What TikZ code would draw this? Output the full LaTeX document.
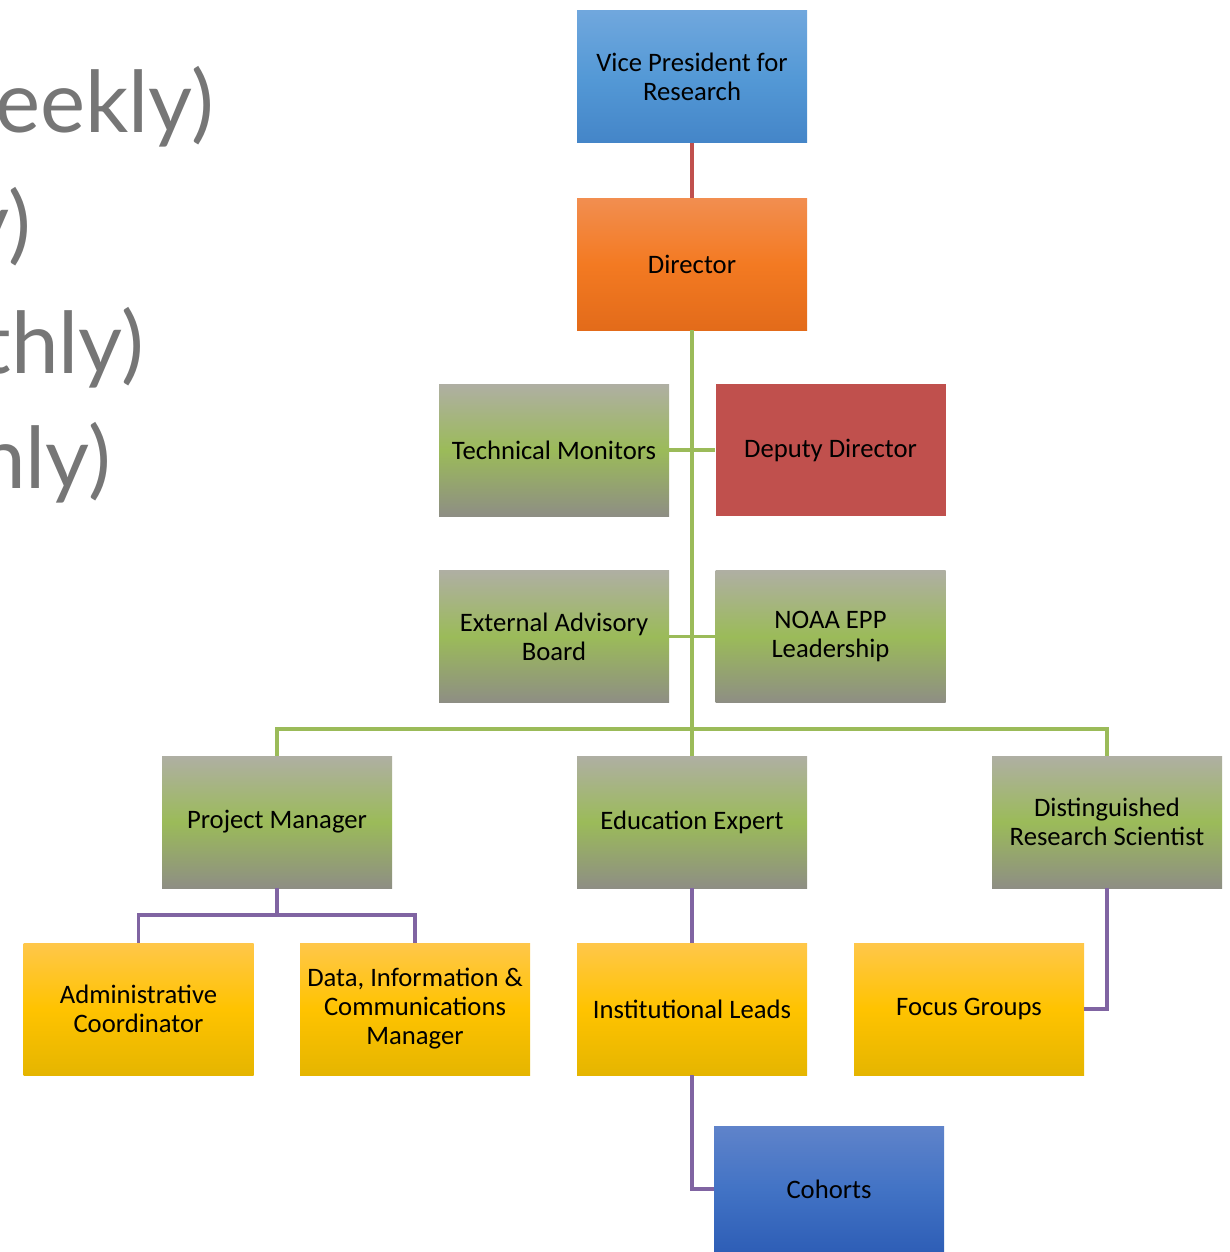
\documentclass[tikz,border=0pt]{standalone}
\usepackage{fontspec}
\setmainfont{Carlito}
\newfontfamily\leftfont{Lato}
\definecolor{lineRed}{HTML}{C0504D}
\definecolor{lineGreen}{HTML}{9BBB59}
\definecolor{linePurple}{HTML}{8064A2}
\definecolor{leftGray}{HTML}{767676}
\definecolor{ddRed}{HTML}{C0504D}
\pgfdeclareverticalshading{greenshade}{100bp}{
  rgb(0bp)=(0.557,0.557,0.518); rgb(25bp)=(0.557,0.557,0.518); rgb(50bp)=(0.608,0.733,0.349);
  rgb(75bp)=(0.686,0.686,0.639); rgb(100bp)=(0.686,0.686,0.639)}
\pgfdeclareverticalshading{blueshade}{100bp}{
  rgb(0bp)=(0.267,0.522,0.784); rgb(25bp)=(0.267,0.522,0.784); rgb(50bp)=(0.329,0.600,0.839);
  rgb(75bp)=(0.439,0.655,0.867); rgb(100bp)=(0.439,0.655,0.867)}
\pgfdeclareverticalshading{orangeshade}{100bp}{
  rgb(0bp)=(0.890,0.420,0.102); rgb(25bp)=(0.890,0.420,0.102); rgb(50bp)=(0.953,0.478,0.133);
  rgb(75bp)=(0.949,0.557,0.314); rgb(100bp)=(0.949,0.557,0.314)}
\pgfdeclareverticalshading{yellowshade}{100bp}{
  rgb(0bp)=(0.898,0.710,0.0); rgb(25bp)=(0.898,0.710,0.0); rgb(50bp)=(1.0,0.765,0.0);
  rgb(75bp)=(1.0,0.780,0.290); rgb(100bp)=(1.0,0.780,0.290)}
\pgfdeclareverticalshading{cohortshade}{100bp}{
  rgb(0bp)=(0.180,0.369,0.714); rgb(25bp)=(0.180,0.369,0.714); rgb(50bp)=(0.259,0.451,0.773);
  rgb(75bp)=(0.373,0.514,0.792); rgb(100bp)=(0.373,0.514,0.792)}
\tikzset{
  orgbox/.style={rectangle, minimum width=172.5pt, minimum height=99pt, inner sep=0pt,
    align=center, font=\fontsize{20}{21.75}\selectfont, text=black},
  greenbox/.style={orgbox, shading=greenshade},
  bluebox/.style={orgbox, shading=blueshade},
  orangebox/.style={orgbox, shading=orangeshade},
  yellowbox/.style={orgbox, shading=yellowshade},
  cohortbox/.style={orgbox, minimum height=94.5pt, shading=cohortshade},
  redbox/.style={orgbox, fill=ddRed},
  conn/.style={line width=2.6pt},
  redline/.style={conn, draw=lineRed},
  greenline/.style={conn, draw=lineGreen},
  purpleline/.style={conn, draw=linePurple},
  sidetext/.style={anchor=base east, inner sep=0pt, text=leftGray, font=\leftfont\fontsize{64}{77}\selectfont}
}
\begin{document}
\begin{tikzpicture}[x=0.75pt,y=-0.75pt]
\useasboundingbox (0,0) rectangle (1230,1252);

% side text (cut off at the left edge, as in the reference)
\node[sidetext] (s1) at (214,133) {eekly)};
\node[sidetext] (s2) at (31,253) {y)};
\node[sidetext] (s3) at (144,373) {thly)};
\node[sidetext] (s4) at (111,488) {hly)};

% connectors (drawn first, boxes on top)
\coordinate (bus) at (692,729);
\coordinate (pmbus) at (277,915);

% boxes
\node[bluebox] (vp) at (692,77) {Vice President for\\Research};
\node[orangebox] (dir) at (692,264) {Director};
\node[greenbox] (tm) at (554,450) {Technical Monitors};
\node[redbox] (dd) at (830.5,450) {Deputy Director};
\node[greenbox] (eab) at (554,636.5) {External Advisory\\Board};
\node[greenbox] (noaa) at (830.5,636.5) {NOAA EPP\\Leadership};
\node[greenbox] (pm) at (277,822) {Project Manager};
\node[greenbox] (edu) at (692,822) {Education Expert};
\node[greenbox] (drs) at (1107,822) {Distinguished\\Research Scientist};
\node[yellowbox] (ac) at (138.5,1009) {Administrative\\Coordinator};
\node[yellowbox] (dicm) at (415,1009) {Data, Information \&\\Communications\\Manager};
\node[yellowbox] (il) at (692,1009) {Institutional Leads};
\node[yellowbox] (fg) at (969,1009) {Focus Groups};
\node[cohortbox] (coh) at (829,1189) {Cohorts};

\draw[redline] (vp.south) -- (dir.north);
\draw[greenline] (dir.south) -- (edu.north);
\draw[greenline] (tm.east) -- (dd.west);
\draw[greenline] (eab.east) -- (noaa.west);
\draw[greenline] (pm.north) |- (bus) -| (drs.north);
\draw[purpleline] (pm.south) -- (pmbus);
\draw[purpleline] (ac.north) |- (pmbus) -| (dicm.north);
\draw[purpleline] (edu.south) -- (il.north);
\draw[purpleline] (drs.south) |- (fg.east);
\draw[purpleline] (il.south) |- (coh.west);
\end{tikzpicture}
\end{document}
